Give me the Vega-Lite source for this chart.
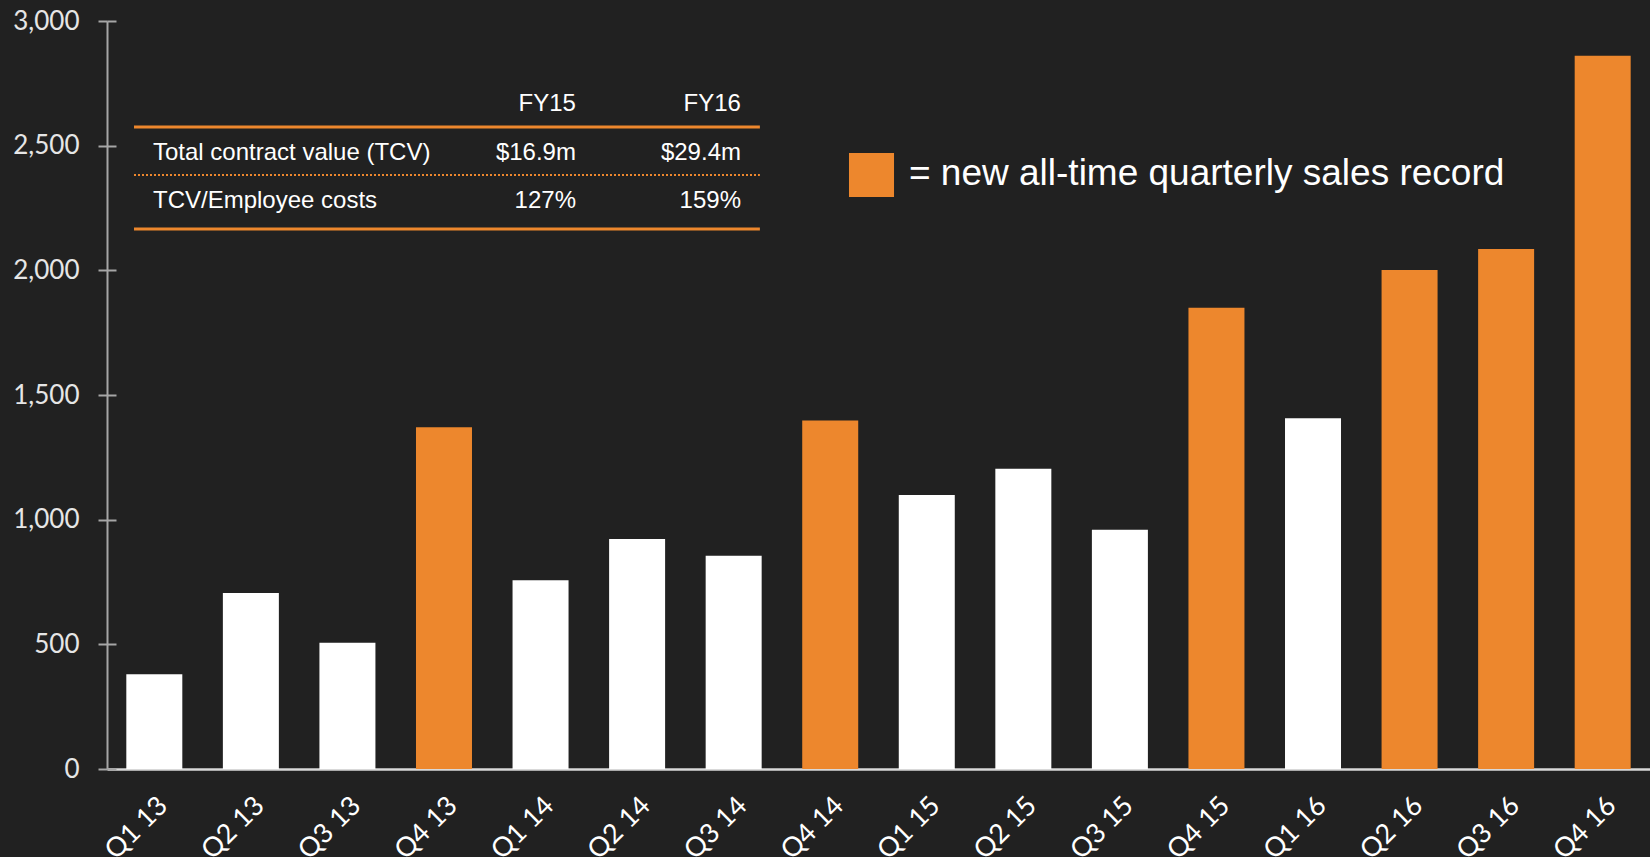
{
  "$schema": "https://vega.github.io/schema/vega-lite/v6.json",
  "width": 1543,
  "height": 748,
  "autosize": "none",
  "padding": {"left": 107, "top": 21, "right": 0, "bottom": 88},
  "background": "#212121",
  "config": {
    "view": {"stroke": null},
    "font": "Lato",
    "axis": {"labelFont": "Lato", "labelColor": "#e6e6e6", "grid": false, "title": null}
  },
  "layer": [
    {
      "data": {
        "values": [
          {"quarter": "Q1 13", "sales": 380, "record": "no"},
          {"quarter": "Q2 13", "sales": 706, "record": "no"},
          {"quarter": "Q3 13", "sales": 506, "record": "no"},
          {"quarter": "Q4 13", "sales": 1371, "record": "yes"},
          {"quarter": "Q1 14", "sales": 757, "record": "no"},
          {"quarter": "Q2 14", "sales": 922, "record": "no"},
          {"quarter": "Q3 14", "sales": 855, "record": "no"},
          {"quarter": "Q4 14", "sales": 1398, "record": "yes"},
          {"quarter": "Q1 15", "sales": 1099, "record": "no"},
          {"quarter": "Q2 15", "sales": 1204, "record": "no"},
          {"quarter": "Q3 15", "sales": 960, "record": "no"},
          {"quarter": "Q4 15", "sales": 1850, "record": "yes"},
          {"quarter": "Q1 16", "sales": 1407, "record": "no"},
          {"quarter": "Q2 16", "sales": 2001, "record": "yes"},
          {"quarter": "Q3 16", "sales": 2086, "record": "yes"},
          {"quarter": "Q4 16", "sales": 2861, "record": "yes"}
        ]
      },
      "mark": {"type": "bar"},
      "encoding": {
        "x": {
          "field": "quarter", "type": "ordinal", "sort": null,
          "scale": {"paddingInner": 0.42, "paddingOuter": 0.2},
          "axis": {
            "labelAngle": -45, "labelAlign": "right", "labelBaseline": "top",
            "labelFontSize": 27, "labelColor": "#ffffff", "labelPadding": 23,
            "ticks": false, "domainColor": "#d9d9d9", "domainWidth": 2.5
          }
        },
        "y": {
          "field": "sales", "type": "quantitative",
          "scale": {"domain": [0, 3000], "nice": false},
          "axis": {
            "values": [0, 500, 1000, 1500, 2000, 2500, 3000],
            "format": ",.0f", "labelFontSize": 26, "labelPadding": 19,
            "tickSize": 9, "tickColor": "#a6a6a6", "tickWidth": 2,
            "domainColor": "#a6a6a6", "domainWidth": 2, "labelColor": "#e6e6e6"
          }
        },
        "color": {
          "field": "record", "type": "nominal",
          "scale": {"domain": ["yes", "no"], "range": ["#ED872D", "#FFFFFF"]},
          "legend": null
        }
      }
    },
    {
      "data": {"values": [{"line": "top"}]},
      "mark": {"type": "rule", "color": "#ED872D", "strokeWidth": 3},
      "encoding": {
        "x": {"datum": 0.28, "type": "quantitative", "scale": {"domain": [0, 16]}, "axis": null},
        "x2": {"datum": 6.77},
        "y": {"datum": 2575, "type": "quantitative", "axis": {
          "orient": "left", "values": [0, 500, 1000, 1500, 2000, 2500, 3000],
          "tickSize": -9, "tickColor": "#a6a6a6", "tickWidth": 2, "labels": false, "domain": false
        }}
      }
    },
    {
      "data": {"values": [{"line": "middle"}]},
      "mark": {"type": "rule", "color": "#ED872D", "strokeWidth": 2, "strokeDash": [2, 2]},
      "encoding": {
        "x": {"datum": 0.28, "type": "quantitative", "scale": {"domain": [0, 16]}, "axis": null},
        "x2": {"datum": 6.77},
        "y": {"datum": 2382, "type": "quantitative", "axis": null}
      }
    },
    {
      "data": {"values": [{"line": "bottom"}]},
      "mark": {"type": "rule", "color": "#ED872D", "strokeWidth": 3},
      "encoding": {
        "x": {"datum": 0.28, "type": "quantitative", "scale": {"domain": [0, 16]}, "axis": null},
        "x2": {"datum": 6.77},
        "y": {"datum": 2166, "type": "quantitative", "axis": null}
      }
    },
    {
      "data": {"values": [{"label": "", "fy15": "FY15", "fy16": "FY16"}]},
      "encoding": {
        "y": {"datum": 2668, "type": "quantitative", "axis": null}
      },
      "layer": [
        {"mark": {"type": "text", "align": "right", "baseline": "middle", "font": "Liberation Sans", "fontSize": 24, "color": "#ffffff"},
         "encoding": {"x": {"datum": 4.863, "type": "quantitative", "scale": {"domain": [0, 16]}, "axis": null}, "text": {"field": "fy15"}}},
        {"mark": {"type": "text", "align": "right", "baseline": "middle", "font": "Liberation Sans", "fontSize": 24, "color": "#ffffff"},
         "encoding": {"x": {"datum": 6.574, "type": "quantitative", "scale": {"domain": [0, 16]}, "axis": null}, "text": {"field": "fy16"}}}
      ]
    },
    {
      "data": {"values": [{"label": "Total contract value (TCV)", "fy15": "$16.9m", "fy16": "$29.4m"}]},
      "encoding": {
        "y": {"datum": 2472, "type": "quantitative", "axis": null}
      },
      "layer": [
        {"mark": {"type": "text", "align": "left", "baseline": "middle", "font": "Liberation Sans", "fontSize": 24, "color": "#ffffff"},
         "encoding": {"x": {"datum": 0.477, "type": "quantitative", "scale": {"domain": [0, 16]}, "axis": null}, "text": {"field": "label"}}},
        {"mark": {"type": "text", "align": "right", "baseline": "middle", "font": "Liberation Sans", "fontSize": 24, "color": "#ffffff"},
         "encoding": {"x": {"datum": 4.863, "type": "quantitative", "scale": {"domain": [0, 16]}, "axis": null}, "text": {"field": "fy15"}}},
        {"mark": {"type": "text", "align": "right", "baseline": "middle", "font": "Liberation Sans", "fontSize": 24, "color": "#ffffff"},
         "encoding": {"x": {"datum": 6.574, "type": "quantitative", "scale": {"domain": [0, 16]}, "axis": null}, "text": {"field": "fy16"}}}
      ]
    },
    {
      "data": {"values": [{"label": "TCV/Employee costs", "fy15": "127%", "fy16": "159%"}]},
      "encoding": {
        "y": {"datum": 2280, "type": "quantitative", "axis": null}
      },
      "layer": [
        {"mark": {"type": "text", "align": "left", "baseline": "middle", "font": "Liberation Sans", "fontSize": 24, "color": "#ffffff"},
         "encoding": {"x": {"datum": 0.477, "type": "quantitative", "scale": {"domain": [0, 16]}, "axis": null}, "text": {"field": "label"}}},
        {"mark": {"type": "text", "align": "right", "baseline": "middle", "font": "Liberation Sans", "fontSize": 24, "color": "#ffffff"},
         "encoding": {"x": {"datum": 4.863, "type": "quantitative", "scale": {"domain": [0, 16]}, "axis": null}, "text": {"field": "fy15"}}},
        {"mark": {"type": "text", "align": "right", "baseline": "middle", "font": "Liberation Sans", "fontSize": 24, "color": "#ffffff"},
         "encoding": {"x": {"datum": 6.574, "type": "quantitative", "scale": {"domain": [0, 16]}, "axis": null}, "text": {"field": "fy16"}}}
      ]
    },
    {
      "data": {"values": [{"legend": "new all-time quarterly sales record"}]},
      "mark": {"type": "rect", "color": "#ED872D"},
      "encoding": {
        "x": {"datum": 7.694, "type": "quantitative", "scale": {"domain": [0, 16]}, "axis": null},
        "x2": {"datum": 8.161},
        "y": {"datum": 2471, "type": "quantitative", "axis": null},
        "y2": {"datum": 2294}
      }
    },
    {
      "data": {"values": [{"legend": "= new all-time quarterly sales record"}]},
      "mark": {"type": "text", "align": "left", "baseline": "middle", "font": "Liberation Sans", "fontSize": 37, "color": "#ffffff"},
      "encoding": {
        "x": {"datum": 8.316, "type": "quantitative", "scale": {"domain": [0, 16]}, "axis": null},
        "y": {"datum": 2386, "type": "quantitative", "axis": null},
        "text": {"field": "legend"}
      }
    }
  ],
  "resolve": {"scale": {"x": "independent"}, "axis": {"y": "independent"}}
}
